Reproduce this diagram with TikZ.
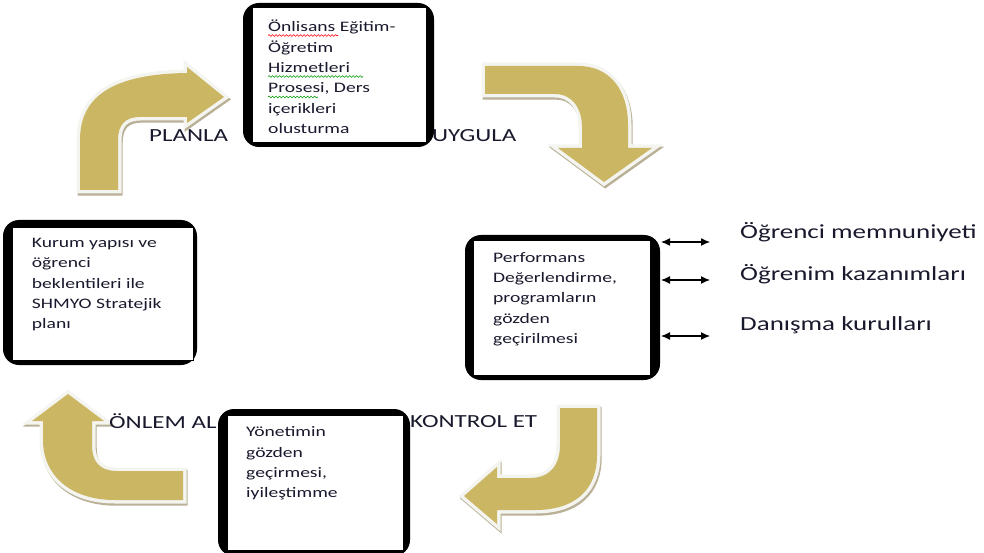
\documentclass[tikz,border=0pt]{standalone}
\usepackage{fontspec}
\setmainfont{Carlito}[FakeStretch=1.35]
\usetikzlibrary{arrows.meta,decorations.pathmorphing}
\definecolor{gold}{RGB}{202,182,99}
\definecolor{shade}{RGB}{185,176,150}
\definecolor{rim}{RGB}{244,244,240}
\definecolor{ink}{RGB}{25,25,45}
\begin{document}
\begin{tikzpicture}[x=1pt,y=-1pt,
  frame/.style={fill=black, rounded corners=16pt, inner sep=0pt, draw=none},
  wbox/.style={draw=black, fill=white, line width=0.8pt, inner sep=0pt},
  btext/.style={anchor=base west, inner sep=0pt, text=ink, font=\fontsize{14.5}{20.4}\selectfont},
  lbl/.style={anchor=base west, inner sep=0pt, text=ink, font=\fontsize{18.5}{22}\selectfont},
  side/.style={anchor=base west, inner sep=0pt, text=ink, font=\fontsize{20}{24}\selectfont},
  bigarrow/.style={fill=gold, preaction={draw=rim, line width=7pt, line join=miter}},
  arrowshadow/.style={fill=shade, draw=shade, line width=7pt, line join=miter},
  dbl/.style={{Latex[length=9pt,width=8pt]}-{Latex[length=9pt,width=8pt]}, line width=1.2pt},
  squig/.style={line width=0.6pt, decorate, decoration={snake, amplitude=0.9pt, segment length=3.5pt}}
]
\useasboundingbox (0,0) rectangle (984,553);

% ---- curved arrows: shadows ----
\begin{scope}[shift={(1.2,2.2)}]
\path[arrowshadow] (80,190) -- (80,140) .. controls (80,95) and (115,74) .. (187,73) -- (187,67) -- (224,97) -- (187,123) -- (187,117) -- (140,117) .. controls (125,117) and (118,125) .. (118,140) -- (118,190) -- cycle;
\path[arrowshadow] (485,66) -- (578,66) .. controls (610,66) and (628,90) .. (628,125) -- (628,148) -- (652,148) -- (604,182) -- (558,148) -- (582,148) -- (582,127) .. controls (582,108) and (572,94) .. (555,94) -- (485,94) -- cycle;
\path[arrowshadow] (560,408) -- (597,408) -- (597,455) .. controls (597,490) and (575,510) .. (535,510) -- (497,510) -- (497,524) -- (464,496) -- (497,467) -- (497,478) -- (530,478) .. controls (550,478) and (560,465) .. (560,445) -- cycle;
\path[arrowshadow] (183,471) -- (183,500) -- (115,500) .. controls (70,500) and (43,475) .. (43,440) -- (43,421) -- (32,421) -- (68,394) -- (104,421) -- (92,421) -- (92,445) .. controls (92,462) and (100,471) .. (117,471) -- cycle;
\end{scope}
% ---- curved arrows ----
\path[bigarrow] (80,190) -- (80,140) .. controls (80,95) and (115,74) .. (187,73) -- (187,67) -- (224,97) -- (187,123) -- (187,117) -- (140,117) .. controls (125,117) and (118,125) .. (118,140) -- (118,190) -- cycle;
\path[bigarrow] (485,66) -- (578,66) .. controls (610,66) and (628,90) .. (628,125) -- (628,148) -- (652,148) -- (604,182) -- (558,148) -- (582,148) -- (582,127) .. controls (582,108) and (572,94) .. (555,94) -- (485,94) -- cycle;
\path[bigarrow] (560,408) -- (597,408) -- (597,455) .. controls (597,490) and (575,510) .. (535,510) -- (497,510) -- (497,524) -- (464,496) -- (497,467) -- (497,478) -- (530,478) .. controls (550,478) and (560,465) .. (560,445) -- cycle;
\path[bigarrow] (183,471) -- (183,500) -- (115,500) .. controls (70,500) and (43,475) .. (43,440) -- (43,421) -- (32,421) -- (68,394) -- (104,421) -- (92,421) -- (92,445) .. controls (92,462) and (100,471) .. (117,471) -- cycle;

% ---- boxes ----
\node[frame, minimum width=191pt, minimum height=144pt] (f1) at (338.5,75) {};
\node[wbox, minimum width=174pt, minimum height=135pt] (b1) at (339,74.5) {};
\node[frame, minimum width=194pt, minimum height=145pt] (f2) at (100,292.5) {};
\node[wbox, minimum width=181pt, minimum height=133pt] (b2) at (102.5,293.5) {};
\node[frame, minimum width=195pt, minimum height=145pt] (f3) at (562.5,307.5) {};
\node[wbox, minimum width=177pt, minimum height=135pt] (b3) at (561.5,307.5) {};
\node[frame, minimum width=192pt, minimum height=147pt] (f4) at (314,482.5) {};
\node[wbox, minimum width=176pt, minimum height=135pt] (b4) at (315,482.5) {};

\node[btext] (t1) at (268,31.7) {\parbox[t]{160pt}{Önlisans Eğitim-\\Öğretim\\Hizmetleri\\Prosesi, Ders\\içerikleri\\olusturma}};
\node[btext] (t2) at (31.7,247.3) {\parbox[t]{160pt}{Kurum yapısı ve\\öğrenci\\beklentileri ile\\SHMYO Stratejik\\planı}};
\node[btext] (t3) at (493,262) {\parbox[t]{160pt}{Performans\\Değerlendirme,\\programların\\gözden\\geçirilmesi}};
\node[btext] (t4) at (246,436.7) {\parbox[t]{160pt}{Yönetimin\\gözden\\geçirmesi,\\iyileştimme}};

% spell-check squiggles
\draw[squig, red] (268,35.5) -- (338,35.5);
\draw[squig, green!60!black] (268,76.5) -- (363,76.5);
\draw[squig, green!60!black] (268,97) -- (318,97);

% ---- cycle labels ----
\node[lbl] (l1) at (149,141.5) {PLANLA};
\node[lbl] (l2) at (432,141.5) {UYGULA};
\node[lbl] (l3) at (109,428) {ÖNLEM AL};
\node[lbl] (l4) at (410,427) {KONTROL ET};

% ---- side items ----
\node[side] (s1) at (740,239) {Öğrenci memnuniyeti};
\node[side] (s2) at (740,280) {Öğrenim kazanımları};
\node[side] (s3) at (740,330) {Danışma kurulları};
\coordinate (a1) at (661,242); \coordinate (e1) at (710,242);
\coordinate (a2) at (661,280); \coordinate (e2) at (710,280);
\coordinate (a3) at (661,336); \coordinate (e3) at (710,336);
\draw[dbl] (a1) -- (e1);
\draw[dbl] (a2) -- (e2);
\draw[dbl] (a3) -- (e3);
\end{tikzpicture}
\end{document}
